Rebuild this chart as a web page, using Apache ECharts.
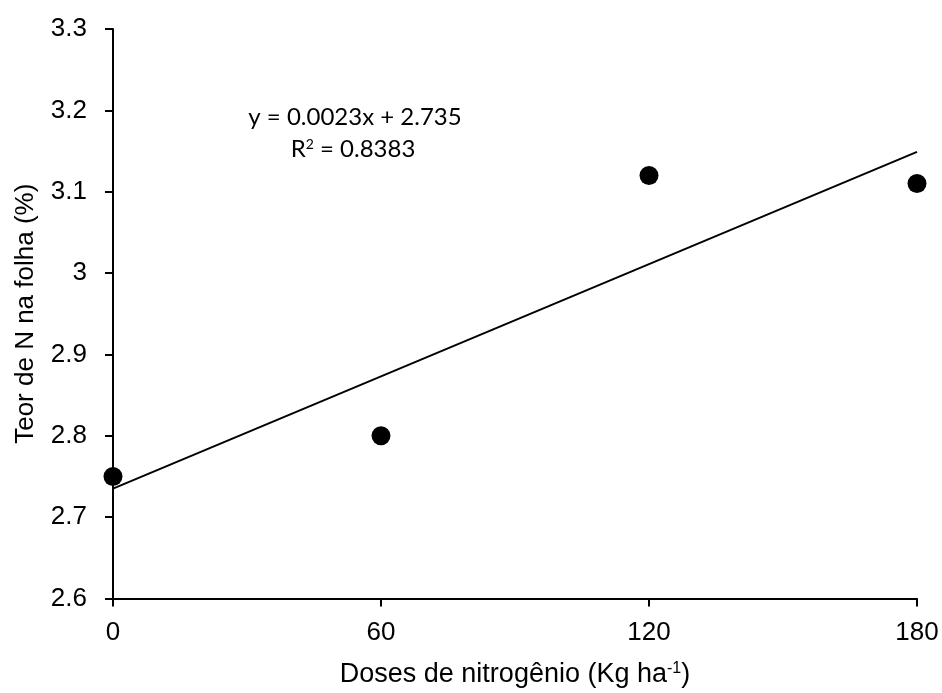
<!DOCTYPE html>
<html><head><meta charset="utf-8">
<script src="https://cdn.jsdelivr.net/npm/echarts@6/dist/echarts.min.js"></script>
<style>html,body{margin:0;padding:0;background:#fff}#c{width:942px;height:693px}</style>
</head><body><div id="c"></div>
<script>
const doses = [0, 60, 120, 180];
const teorN = [2.75, 2.80, 3.12, 3.11];
const trendX = [0, 180];
const trendY = [2.735, 3.149];
const xTicks = [0, 60, 120, 180];
const yTicks = [2.6, 2.7, 2.8, 2.9, 3.0, 3.1, 3.2, 3.3];
const equation = 'y = 0.0023x + 2.735';
const r2 = 'R{sup|2} = 0.8383';

const chart = echarts.init(document.getElementById('c'), null, {renderer: 'canvas'});
const font = 'Liberation Sans, Arial, sans-serif';
const eqFont = 'Lato, "Open Sans", sans-serif';
chart.setOption({
  animation: false,
  backgroundColor: '#fff',
  grid: {left: 113, right: 25, top: 29, bottom: 90, containLabel: false},
  xAxis: {
    type: 'value', min: 0, max: 180, interval: 60,
    name: 'Doses de nitrogênio (Kg ha{sup|-1})',
    nameLocation: 'middle', nameGap: 62,
    nameTextStyle: {color: '#000', fontFamily: font, fontSize: 27,
      rich: {sup: {fontSize: 16, verticalAlign: 'top', padding: [0,0,12,0], color:'#000', fontFamily: font}}},
    axisLine: {lineStyle: {color: '#000', width: 2}},
    axisTick: {show: true, length: 8, inside: false, lineStyle: {color: '#000', width: 2}},
    axisLabel: {color: '#000', fontFamily: font, fontSize: 26, margin: 21},
    splitLine: {show: false}
  },
  yAxis: {
    type: 'value', min: 2.6, max: 3.3, interval: 0.1,
    name: 'Teor de N na folha (%)',
    nameLocation: 'middle', nameGap: 74,
    nameTextStyle: {color: '#000', fontFamily: font, fontSize: 26},
    axisLine: {show: true, lineStyle: {color: '#000', width: 2}},
    axisTick: {show: true, length: 8, inside: false, lineStyle: {color: '#000', width: 2}},
    axisLabel: {color: '#000', fontFamily: font, fontSize: 26, margin: 26,
      formatter: v => (Math.round(v * 10) / 10).toString()},
    splitLine: {show: false}
  },
  graphic: [
    {type: 'text', x: 355, y: 117, style: {text: equation, fill: '#000', font: '24px ' + eqFont, align: 'center', verticalAlign: 'middle'}},
    {type: 'text', x: 353, y: 149, style: {text: r2, fill: '#000', font: '24px ' + eqFont, align: 'center', verticalAlign: 'middle',
      rich: {sup: {fontSize: 14, verticalAlign: 'top', padding: [0,0,10,0], fill:'#000', fontFamily: 'Lato'}}}}
  ],
  series: [
    {type: 'line', data: trendX.map((x, i) => [x, trendY[i]]), symbol: 'none',
      lineStyle: {color: '#000', width: 2}, z: 2},
    {type: 'scatter', data: doses.map((x, i) => [x, teorN[i]]), symbol: 'circle', symbolSize: 19,
      itemStyle: {color: '#000', opacity: 1}, z: 3}
  ]
});
</script></body></html>
